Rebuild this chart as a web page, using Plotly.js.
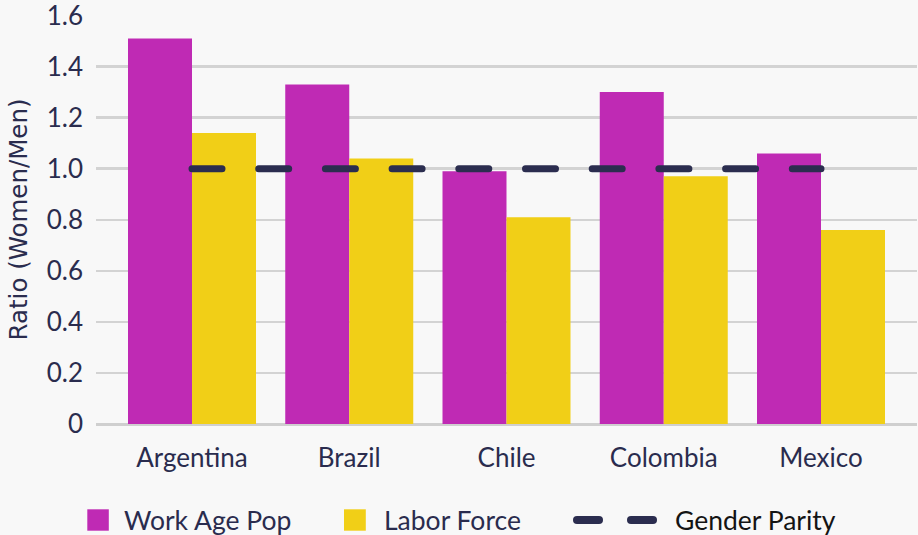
<!DOCTYPE html>
<html>
<head>
<meta charset="utf-8">
<script src="https://cdn.plot.ly/plotly-3.0.1.min.js"></script>
<style>
  html, body { margin: 0; padding: 0; background: #f8f8f8; }
  #chart { width: 918px; height: 535px; }
  /* rounded dash ends for the parity line and its key */
  .scatterlayer .js-line, .shapelayer path { stroke-linecap: round; }
</style>
</head>
<body>
<div id="chart"></div>
<script>
// Female-to-male ratios by country
const countries = ['Argentina', 'Brazil', 'Chile', 'Colombia', 'Mexico'];
const workAgePop = [1.51, 1.33, 0.99, 1.30, 1.06];
const laborForce = [1.14, 1.04, 0.81, 0.97, 0.76];
const genderParity = [1, 1, 1, 1, 1];
const seriesNames = ['Work Age Pop', 'Labor Force', 'Gender Parity'];
const yTickVals = [0, 0.2, 0.4, 0.6, 0.8, 1.0, 1.2, 1.4, 1.6];
const yTickText = ['0', '0.2', '0.4', '0.6', '0.8', '1.0', '1.2', '1.4', '1.6'];

const MAGENTA = '#bf2ab4';
const YELLOW = '#f1cf17';
const NAVY = '#2b2d4f';
const INK = '#2a2c4e';
const BG = '#f8f8f8';

const W = 918, H = 535;
const Y_TOP = 1.602;  // a hair above 1.6 so the top gridline and label are kept
const margin = { l: 96, r: 1, t: 15, b: 111, pad: 0 };
const plotW = W - margin.l - margin.r;
const plotH = H - margin.t - margin.b;
// page pixel -> paper fraction, used for the hand-built key below the plot
const px = x => (x - margin.l) / plotW;
const py = y => (H - margin.b - y) / plotH;

const traces = [
  {
    type: 'bar', name: seriesNames[0], x: countries, y: workAgePop,
    marker: { color: MAGENTA }, showlegend: false, hoverinfo: 'x+y'
  },
  {
    type: 'bar', name: seriesNames[1], x: countries, y: laborForce,
    marker: { color: YELLOW }, showlegend: false, hoverinfo: 'x+y'
  },
  {
    type: 'scatter', mode: 'lines', name: seriesNames[2], x: countries, y: genderParity,
    line: { color: NAVY, width: 7, dash: '30px,36.7px' }, showlegend: false
  }
];

const legendFont = { family: 'Lato, sans-serif', size: 26.5, color: INK };
const tickFont = { family: 'Lato, sans-serif', size: 26, color: INK };
const keyY = 520;

const shapes = [
  { type: 'rect', xref: 'paper', yref: 'paper', x0: px(87.3), x1: px(108.8), y0: py(530.7), y1: py(509.3),
    fillcolor: MAGENTA, line: { width: 0 } },
  { type: 'rect', xref: 'paper', yref: 'paper', x0: px(344), x1: px(365.8), y0: py(530.7), y1: py(509.3),
    fillcolor: YELLOW, line: { width: 0 } },
  { type: 'line', xref: 'paper', yref: 'paper', x0: px(577), x1: px(599), y0: py(keyY), y1: py(keyY),
    line: { color: NAVY, width: 8 } },
  { type: 'line', xref: 'paper', yref: 'paper', x0: px(631), x1: px(653), y0: py(keyY), y1: py(keyY),
    line: { color: NAVY, width: 8 } }
];

const annotations = [
  { xref: 'paper', yref: 'paper', x: px(122), y: py(keyY), xanchor: 'left', yanchor: 'middle',
    text: seriesNames[0], showarrow: false, font: legendFont },
  { xref: 'paper', yref: 'paper', x: px(382), y: py(keyY), xanchor: 'left', yanchor: 'middle',
    text: seriesNames[1], showarrow: false, font: legendFont },
  { xref: 'paper', yref: 'paper', x: px(673), y: py(keyY), xanchor: 'left', yanchor: 'middle',
    text: seriesNames[2], showarrow: false, font: Object.assign({}, legendFont, { color: '#141414' }) }
];

const layout = {
  width: W, height: H,
  margin: margin,
  paper_bgcolor: BG, plot_bgcolor: BG,
  barmode: 'group', bargap: 0.186, bargroupgap: 0,
  showlegend: false,
  font: { family: 'Lato, sans-serif', size: 26, color: INK },
  xaxis: {
    type: 'category', range: [-0.6105, 4.6105],
    showgrid: false, zeroline: false, showline: false, ticks: '',
    ticklabelstandoff: 16,
    tickfont: tickFont,
    fixedrange: true
  },
  yaxis: {
    range: [0, Y_TOP],
    tickmode: 'array', tickvals: yTickVals, ticktext: yTickText,
    showgrid: true, gridcolor: '#d3d3d3', gridwidth: 2.5,
    zeroline: true, zerolinecolor: '#cfcfcf', zerolinewidth: 3,
    showline: false, ticks: '',
    ticklabelstandoff: 12,
    ticklabeloverflow: 'allow',
    tickfont: tickFont,
    title: { text: 'Ratio (Women/Men)', standoff: 12,
             font: { family: 'DejaVu Sans, sans-serif', size: 24.5, color: INK } },
    fixedrange: true
  },
  shapes: shapes,
  annotations: annotations
};

Plotly.newPlot('chart', traces, layout, { displayModeBar: false, staticPlot: true });
</script>
</body>
</html>
